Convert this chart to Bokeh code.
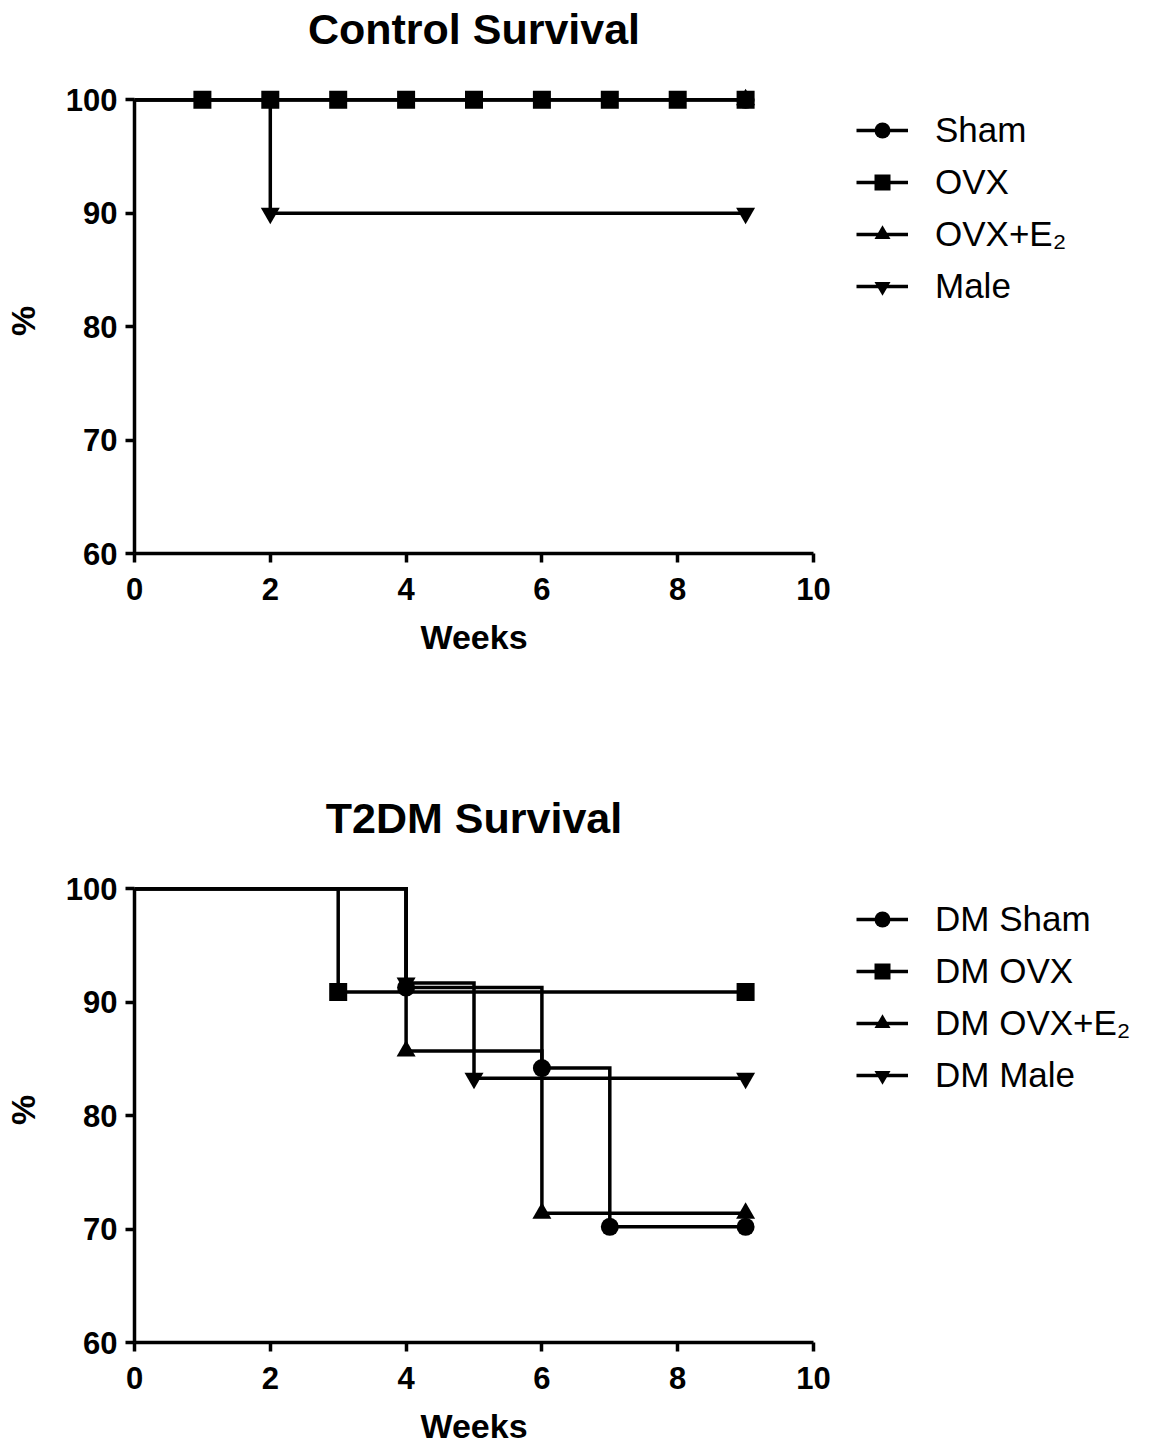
from bokeh.plotting import figure
from bokeh.layouts import column
from bokeh.models import Legend, LegendItem, FixedTicker, Range1d, Title
from bokeh.embed import file_html
from bokeh.resources import INLINE

# ---- data ----
x_ticks = [0, 2, 4, 6, 8, 10]
y_ticks = [60, 70, 80, 90, 100]

ctrl_labels = ["Sham", "OVX", "OVX+E\u2082", "Male"]
ctrl_sham_weeks = [0, 9]
ctrl_sham_pct = [100, 100]
ctrl_ovx_weeks = [0, 1, 2, 3, 4, 5, 6, 7, 8, 9]
ctrl_ovx_pct = [100, 100, 100, 100, 100, 100, 100, 100, 100, 100]
ctrl_ovxe2_weeks = [0, 9]
ctrl_ovxe2_pct = [100, 100]
ctrl_male_weeks = [0, 2, 9]
ctrl_male_pct = [100, 90, 90]

dm_labels = ["DM Sham", "DM OVX", "DM OVX+E\u2082", "DM Male"]
dm_sham_weeks = [0, 4, 6, 7, 9]
dm_sham_pct = [100, 91.3, 84.2, 70.2, 70.2]
dm_ovx_weeks = [0, 3, 9]
dm_ovx_pct = [100, 90.9, 90.9]
dm_ovxe2_weeks = [0, 4, 6, 9]
dm_ovxe2_pct = [100, 85.7, 71.4, 71.4]
dm_male_weeks = [0, 4, 5, 9]
dm_male_pct = [100, 91.7, 83.3, 83.3]

markers = ["circle", "square", "triangle", "inverted_triangle"]
marker_sizes = [18, 18, 19, 19]

FONT = "Liberation Sans"
LW = 3.5


def make_panel(title, labels, series, top_border, bottom_border, marker_order):
    p = figure(frame_width=679, frame_height=465,
               min_border_left=134, min_border_right=328,
               min_border_top=top_border, min_border_bottom=bottom_border,
               x_range=Range1d(0, 10), y_range=Range1d(60, 101),
               output_backend="svg", toolbar_location=None,
               title=None)

    # spacer closest to the frame, then the visible title above it
    p.add_layout(Title(text=" ", text_font_size="1px", standoff=33,
                       text_color="white"), "above")
    p.add_layout(Title(text=title, text_font=FONT, text_font_size="43px",
                       text_font_style="bold", align="center", standoff=0,
                       text_color="black"), "above")

    p.outline_line_color = None
    p.xgrid.grid_line_color = None
    p.ygrid.grid_line_color = None
    p.background_fill_color = "white"
    p.border_fill_color = "white"

    for ax, ticks in ((p.xaxis, x_ticks), (p.yaxis, y_ticks)):
        ax.ticker = FixedTicker(ticks=ticks)
        ax.minor_tick_line_color = None
        ax.major_tick_in = 0
        ax.major_tick_out = 9
        ax.major_tick_line_width = LW
        ax.major_tick_line_color = "black"
        ax.axis_line_width = LW
        ax.axis_line_color = "black"
        ax.major_label_text_font = FONT
        ax.major_label_text_font_size = "31px"
        ax.major_label_text_font_style = "bold"
        ax.major_label_text_color = "black"
        ax.axis_label_text_font = FONT
        ax.axis_label_text_font_size = "34px"
        ax.axis_label_text_font_style = "bold"
        ax.axis_label_text_color = "black"

    p.yaxis.bounds = (60, 100)
    p.xaxis.axis_label = "Weeks"
    p.xaxis.major_label_standoff = 15
    p.xaxis.axis_label_standoff = 15
    p.yaxis.axis_label = "%"
    p.yaxis.major_label_standoff = 8
    p.yaxis.axis_label_standoff = 21

    lines = []
    for wk, pct in series:
        lines.append(p.step(wk, pct, mode="after", line_color="black",
                            line_width=LW, line_join="miter"))
    scatters = [None] * len(series)
    for i in marker_order:
        wk, pct = series[i]
        scatters[i] = p.scatter(wk[1:], pct[1:], marker=markers[i],
                                size=marker_sizes[i], fill_color="black",
                                line_color="black", line_width=0)

    items = [LegendItem(label=lab, renderers=[ln, sc])
             for lab, ln, sc in zip(labels, lines, scatters)]
    leg = Legend(items=items, location=(43, 247),
                 glyph_width=52, glyph_height=40, spacing=12,
                 padding=0, margin=23, label_standoff=27,
                 label_text_font=FONT, label_text_font_size="35px",
                 label_text_color="black",
                 border_line_color=None, background_fill_alpha=0)
    p.add_layout(leg, "right")
    return p


p1 = make_panel("Control Survival", ctrl_labels,
                [(ctrl_sham_weeks, ctrl_sham_pct),
                 (ctrl_ovx_weeks, ctrl_ovx_pct),
                 (ctrl_ovxe2_weeks, ctrl_ovxe2_pct),
                 (ctrl_male_weeks, ctrl_male_pct)],
                top_border=88, bottom_border=140, marker_order=[0, 2, 3, 1])

p2 = make_panel("T2DM Survival", dm_labels,
                [(dm_sham_weeks, dm_sham_pct),
                 (dm_ovx_weeks, dm_ovx_pct),
                 (dm_ovxe2_weeks, dm_ovxe2_pct),
                 (dm_male_weeks, dm_male_pct)],
                top_border=184, bottom_border=60, marker_order=[0, 1, 2, 3])

layout = column(p1, p2, spacing=0)
open("out.html", "w").write(file_html(layout, INLINE))
